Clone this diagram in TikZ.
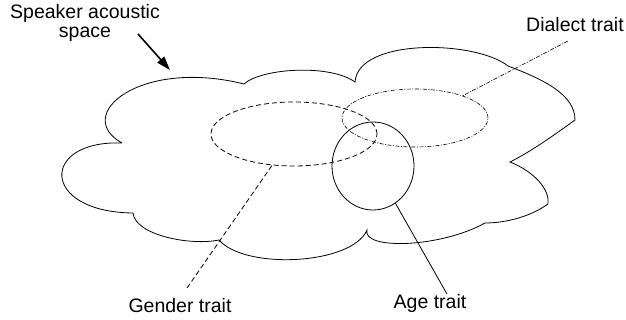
\documentclass[tikz,border=0pt]{standalone}
\usepackage{fontspec}
\setmainfont{Liberation Sans}
\usetikzlibrary{shapes.geometric,arrows.meta}

\begin{document}
\begin{tikzpicture}[x=1pt, y=1pt, line width=0.8pt]
\tikzstyle{trait}=[draw, ellipse, inner sep=0pt]
\tikzstyle{traitname}=[font=\fontsize{19.5}{18.5}\selectfont, inner sep=0pt, align=center]
\tikzstyle{dialectline}=[line width=0.6pt, dash pattern=on 4pt off 1.5pt on 1pt off 1.5pt]
\useasboundingbox (0,0) rectangle (626,320);

% speaker acoustic space
\draw (122,177) .. controls (72,205) and (140,262) .. (244,236)
  .. controls (262,252) and (330,256) .. (355,238)
  .. controls (358,282) and (475,280) .. (508,254)
  .. controls (545,240) and (575,225) .. (575,200)
  .. controls (550,182) and (530,168) .. (510,158)
  .. controls (535,148) and (550,130) .. (548,116)
  .. controls (530,103) and (505,97) .. (485,97)
  .. controls (440,72) and (362,70) .. (367,90)
  .. controls (352,55) and (245,50) .. (219,80)
  .. controls (190,74) and (135,85) .. (133,107)
  .. controls (40,108) and (40,180) .. (122,177);

% traits
\node[trait, dash pattern=on 5pt off 3pt, minimum width=166pt, minimum height=64pt] (gender) at (294,186) {};
\node[trait, dialectline, minimum width=146pt, minimum height=58pt] (dialect) at (415,202) {};
\node[trait, minimum width=82pt, minimum height=88pt] (age) at (373,154) {};

\node[traitname, anchor=north] (space) at (85,316) {Speaker acoustic\\space};
\foreach \place/\name/\text in {{(575,288)/dialect name/Dialect trait},
                                {(180,7)/gender name/Gender trait},
                                {(430,11)/age name/Age trait}}
  \node[traitname, anchor=base] (\name) at \place {\text};

\coordinate (space end) at (138,286);
\coordinate (cloud tip) at (170,250);
\coordinate (dialect end) at (568,279);
\coordinate (gender end) at (187,32);
\coordinate (age end) at (447,26);

\draw[-{Triangle[length=14pt,width=9pt]}, line width=1.6pt] (space end) -- (cloud tip);
\draw[dialectline] (dialect end) -- (dialect.25.5);
\draw[dash pattern=on 5pt off 3pt] (gender end) -- (gender.-125);
\draw (age end) -- (age.-59);
\end{tikzpicture}
\end{document}
